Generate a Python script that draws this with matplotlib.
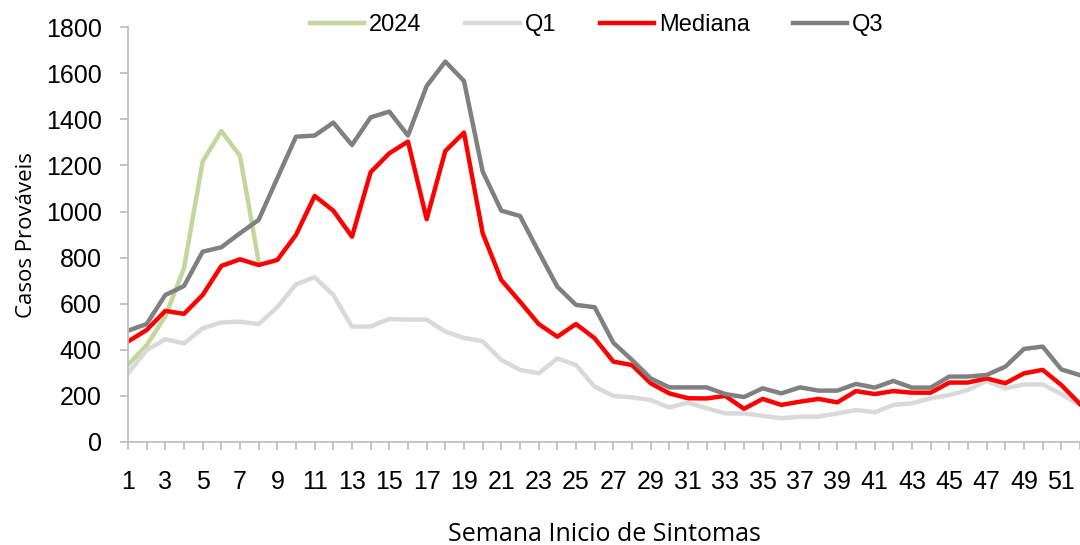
import numpy as np
import matplotlib.pyplot as plt

# semanas epidemiologicas
semanas = list(range(1, 53))

# casos 2024 (ate semana 8)
sem_2024 = list(range(1, 9))
casos_2024 = [335, 420, 545, 754, 1217, 1350, 1242, 783]

q1 = [298, 399, 446, 428, 493, 519, 522, 512, 585, 684,
      715, 638, 501, 501, 534, 531, 531, 479, 452, 437,
      356, 313, 298, 363, 334, 240, 200, 194, 182, 150,
      171, 146, 124, 124, 114, 103, 110, 110, 124, 139,
      129, 161, 168, 190, 204, 226, 265, 233, 250, 250,
      208, 160]

mediana = [436, 486, 569, 556, 638, 764, 793, 768, 790, 899,
           1068, 1004, 891, 1171, 1253, 1304, 967, 1263, 1343, 906,
           703, 609, 512, 457, 512, 450, 349, 334, 255, 211,
           190, 189, 200, 144, 187, 161, 175, 187, 172, 221,
           208, 221, 214, 214, 258, 258, 276, 255, 298, 313,
           247, 165]

q3 = [483, 512, 638, 677, 826, 845, 906, 964, 1145, 1325,
      1330, 1386, 1289, 1409, 1434, 1330, 1545, 1651, 1567, 1174,
      1004, 981, 826, 674, 595, 585, 431, 356, 276, 237,
      237, 237, 208, 195, 233, 211, 237, 223, 223, 252,
      236, 265, 236, 236, 284, 284, 291, 327, 404, 414,
      315, 290]

fig = plt.figure(figsize=(10.8, 5.45), dpi=100)
ax = fig.add_axes([0.1185, 0.189, 0.8815, 0.761])

lw = 3.2
ax.plot(sem_2024, casos_2024, color='#c3d69b', lw=lw, label='2024')
ax.plot(semanas, q1, color='#d9d9d9', lw=lw, label='Q1')
ax.plot(semanas, mediana, color='#ff0000', lw=lw, label='Mediana')
ax.plot(semanas, q3, color='#808080', lw=lw, label='Q3')

ax.set_xlim(1, 51.65)
ax.set_ylim(0, 1800)
ax.set_yticks(np.arange(0, 1801, 200))
ax.set_xticks(semanas)
ax.set_xticklabels([str(s) if s % 2 == 1 else '' for s in semanas])

for side in ['top', 'right']:
    ax.spines[side].set_visible(False)
for side in ['left', 'bottom']:
    ax.spines[side].set_color('#bfbfbf')
    ax.spines[side].set_linewidth(1.3)

ax.tick_params(axis='both', colors='#bfbfbf', width=1.3, length=6,
               labelcolor='black', labelsize=18)
ax.tick_params(axis='y', pad=13)
ax.tick_params(axis='x', pad=14)
for lab in ax.get_xticklabels() + ax.get_yticklabels():
    lab.set_family('Liberation Sans')

ax.set_ylabel('Casos Prováveis', family='Open Sans', fontsize=16, labelpad=6)
ax.set_xlabel('Semana Inicio de Sintomas', family='Open Sans', fontsize=18, labelpad=20)

ax.legend(loc='center', bbox_to_anchor=(0.4926, 1.0055), ncol=4, frameon=False,
          prop={'family': 'Liberation Sans', 'size': 17},
          handlelength=2.3, columnspacing=1.85, handletextpad=0.2)

fig.savefig('out.png', dpi=100)
